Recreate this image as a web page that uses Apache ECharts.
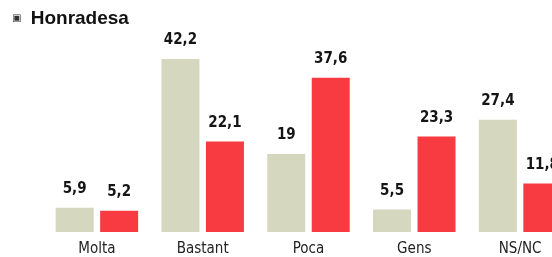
<!DOCTYPE html>
<html>
<head>
<meta charset="utf-8">
<script src="https://cdn.jsdelivr.net/npm/echarts@6/dist/echarts.min.js"></script>
<style>
  html, body { margin: 0; padding: 0; background: #fff; }
  #main { width: 552px; height: 257px; }
</style>
</head>
<body>
<div id="main"></div>
<script>
// dades
const categories = ['Molta', 'Bastant', 'Poca', 'Gens', 'NS/NC']
const serieA = [5.9, 42.2, 19, 5.5, 27.4]
const serieB = [5.2, 22.1, 37.6, 23.3, 11.8]

const narrow = "'Liberation Sans Narrow', 'DejaVu Sans Condensed', sans-serif"

const labelOption = {
  show: true,
  position: 'top',
  distance: 11,
  color: '#151515',
  fontFamily: narrow,
  fontWeight: 900,
  fontSize: 15,
  formatter: p => String(p.value).replace('.', ',')
}

const chart = echarts.init(document.getElementById('main'))
chart.setOption({
  animation: false,
  title: {
    text: '{i|▣} Honradesa',
    left: 7,
    top: 4,
    textStyle: {
      rich: {
        i: { fontSize: 10, color: '#333', fontFamily: 'DejaVu Sans', padding: [0, 4, 0, 0] }
      },
      fontFamily: "'Liberation Sans', Arial, sans-serif",
      fontWeight: 'bold',
      fontSize: 19,
      color: '#111'
    }
  },
  grid: { left: 44, width: 529, top: 27, bottom: 25, containLabel: false, outerBoundsMode: 'none' },
  xAxis: {
    type: 'category',
    data: categories,
    axisLine: { show: false },
    axisTick: { show: false },
    axisLabel: { color: '#222', fontFamily: narrow, fontSize: 15, margin: 10 }
  },
  yAxis: {
    type: 'value',
    min: 0,
    max: 50,
    show: false,
    splitLine: { show: false }
  },
  series: [
    {
      type: 'bar',
      data: serieA,
      barWidth: 38,
      barGap: '17%',
      itemStyle: { color: '#d6d7bf' },
      label: labelOption
    },
    {
      type: 'bar',
      data: serieB,
      barWidth: 38,
      itemStyle: { color: '#f73b41' },
      label: labelOption
    }
  ]
})
</script>
</body>
</html>
